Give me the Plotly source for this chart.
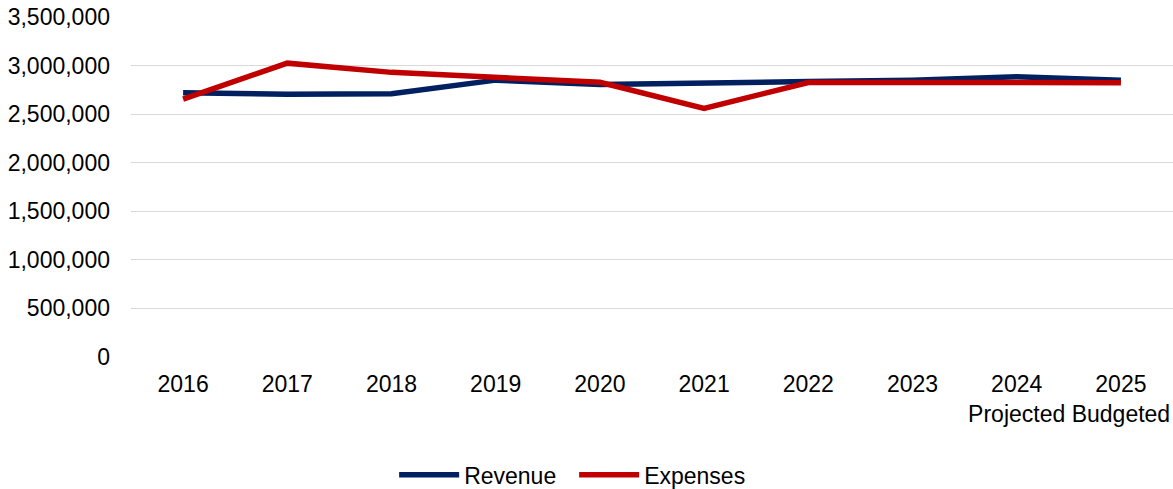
import plotly.graph_objects as go

# Fiscal years shown on the category axis
years = ["2016", "2017", "2018", "2019", "2020", "2021", "2022", "2023",
         "2024<br>Projected", "2025<br>Budgeted"]

# Annual totals
revenue = [2720000, 2705000, 2710000, 2850000, 2805000, 2815000, 2835000,
           2850000, 2885000, 2848000]
expenses = [2655000, 3025000, 2930000, 2875000, 2828000, 2560000, 2825000,
            2825000, 2824000, 2824000]

FONT = dict(family="Liberation Sans, Arial, sans-serif", size=23, color="#000000")

fig = go.Figure()
fig.add_trace(go.Scatter(x=years, y=revenue, name="Revenue", mode="lines",
                         line=dict(color="#002060", width=5.5)))
fig.add_trace(go.Scatter(x=years, y=expenses, name="Expenses", mode="lines",
                         line=dict(color="#C00000", width=5.5)))

fig.update_layout(
    width=1173, height=489,
    margin=dict(l=131, r=0, t=17, b=132),
    paper_bgcolor="white", plot_bgcolor="white",
    font=FONT,
    showlegend=True,
    legend=dict(orientation="h", xref="container", yref="container",
                x=0.336, xanchor="left", y=0.029, yanchor="middle",
                font=FONT, itemwidth=60, entrywidth=105, entrywidthmode="pixels",
                tracegroupgap=0, bgcolor="rgba(0,0,0,0)"),
)
fig.update_xaxes(type="category", range=[-0.5, len(years) - 0.5],
                 showgrid=False, showline=False, zeroline=False,
                 ticks="", ticklabelstandoff=11, tickfont=FONT)
fig.update_yaxes(range=[0, 3500000], dtick=500000, tickformat=",",
                 showgrid=True, gridcolor="#d9d9d9", gridwidth=1.3,
                 zeroline=False, showline=False, ticks="",
                 ticklabelstandoff=20, tickfont=FONT)

fig.write_html("out.html")
